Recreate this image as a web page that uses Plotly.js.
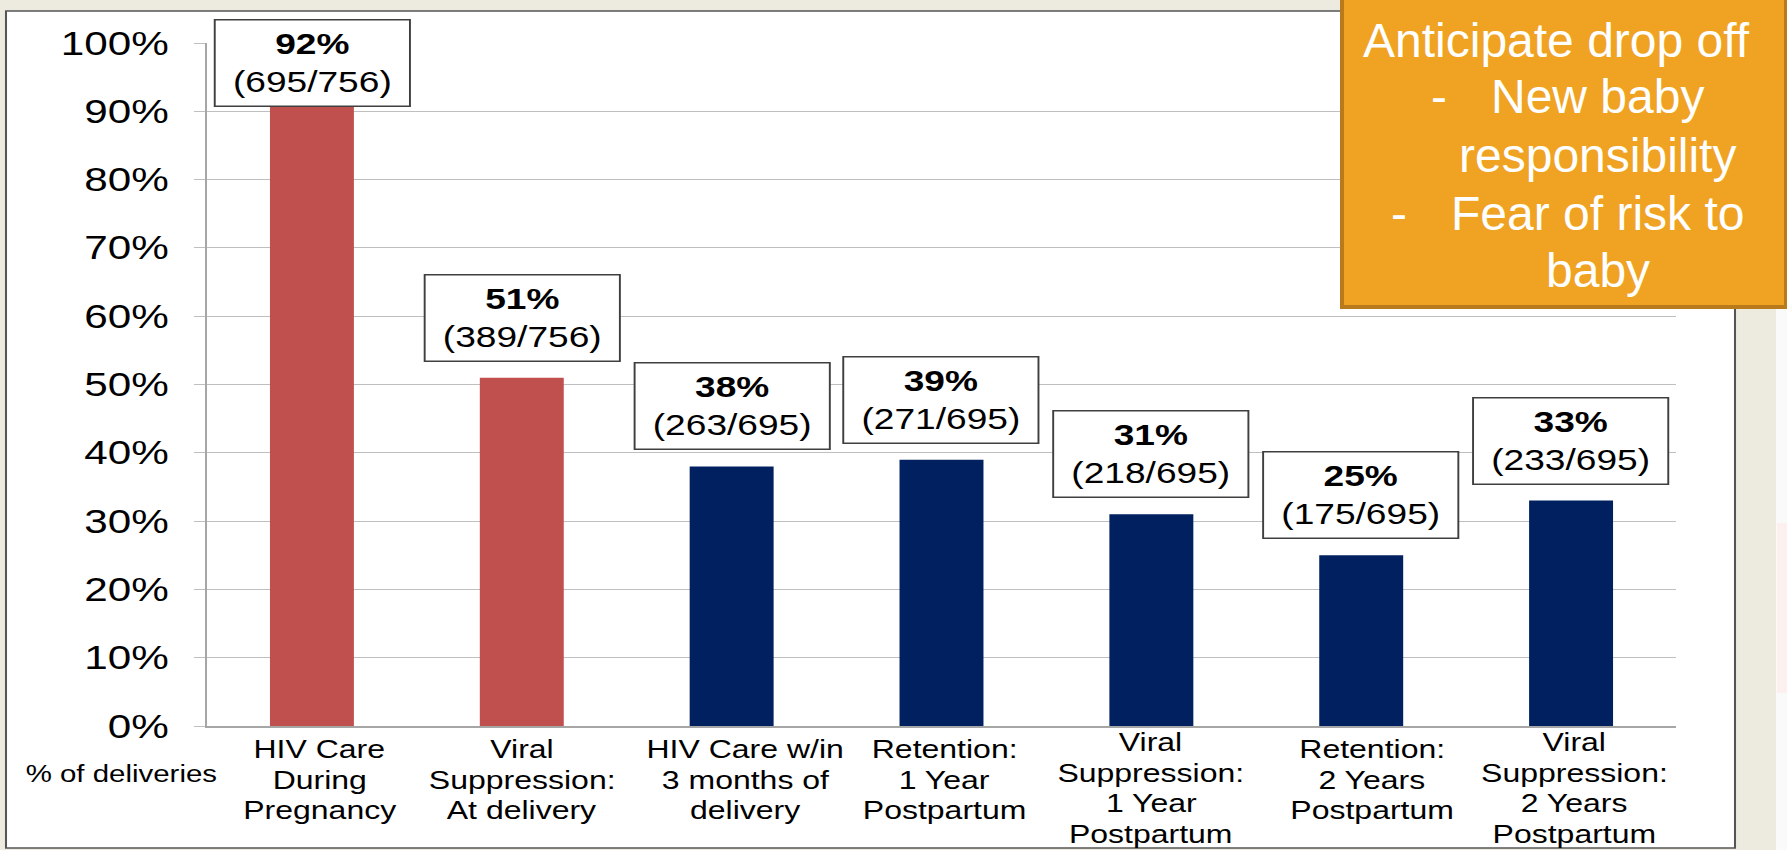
<!DOCTYPE html>
<html>
<head>
<meta charset="utf-8">
<script src="https://cdn.plot.ly/plotly-3.0.1.min.js"></script>
<style>
  html, body { margin: 0; padding: 0; width: 1787px; height: 850px; overflow: hidden; background: #EDEAE0; }
  #chart { position: absolute; left: 0; top: 0; transform-origin: 0 0; }
  #note { position: absolute; left: 0; top: 0; width: 1787px; height: 850px; pointer-events: none; }
</style>
</head>
<body>
<div id="chart"></div>
<div id="note"></div>
<script>
// Care cascade for deliveries among women with HIV
const categories = [
  "HIV Care<br>During<br>Pregnancy",
  "Viral<br>Suppression:<br>At delivery",
  "HIV Care w/in<br>3 months of<br>delivery",
  "Retention:<br>1 Year<br>Postpartum",
  "Viral<br>Suppression:<br>1 Year<br>Postpartum",
  "Retention:<br>2 Years<br>Postpartum",
  "Viral<br>Suppression:<br>2 Years<br>Postpartum"
];
const shares = [0.92, 0.51, 0.38, 0.39, 0.31, 0.25, 0.33];
const counts = ["695/756", "389/756", "263/695", "271/695", "218/695", "175/695", "233/695"];
const phase = ["pregnancy", "pregnancy", "postpartum", "postpartum", "postpartum", "postpartum", "postpartum"];
const yTicks = [0, 0.1, 0.2, 0.3, 0.4, 0.5, 0.6, 0.7, 0.8, 0.9, 1.0];
const seriesName = "% of deliveries";

const noteLines = ["Anticipate drop off", "-", "New baby", "responsibility", "-", "Fear of risk to", "baby"];

// ---- page geometry ----
const W = 1787, H = 850;
const STRETCH = 1.28;                 // chart slide is widened horizontally
const W0 = Math.round(W / STRETCH);   // chart drawn at this width, then widened
const SX = W / W0;
const px = v => v / W;
const py = v => 1 - v / H;

const FONT = "Liberation Sans, Arial, Helvetica, sans-serif";
const phaseColor = { pregnancy: "#C0504D", postpartum: "#002060" };

// value-label boxes sit above each bar, kept inside the plot top
const LABEL_CAP = 0.883;
const labelAnnotations = shares.map((v, i) => ({
  x: i, y: Math.min(v, LABEL_CAP), xref: "x", yref: "y",
  yanchor: "bottom", xanchor: "center", yshift: 16,
  text: "<b>" + Math.round(v * 100) + "%</b><br>(" + counts[i] + ")",
  showarrow: false, width: 151, height: 85,
  bgcolor: "#FFFFFF", bordercolor: "#3F3F3F", borderwidth: 1.5, borderpad: 0,
  font: { family: FONT, size: 29, color: "#000000" }, align: "center", valign: "middle"
}));

// category names under the axis, one line at a time for tighter leading
const CAT_SIZE = 25, CAT_LEAD = 30.5;
const catNudge = [8, 0, 14, 3, 0, 11, 3];   // small horizontal offsets of the wrapped names (px)
const categoryAnnotations = [];
categories.forEach((c, i) => {
  const lines = c.split("<br>");
  const first = 758 - 7 * (lines.length - 3);
  lines.forEach((t, k) => {
    categoryAnnotations.push({
      x: i, xref: "x", yref: "paper", xshift: catNudge[i] / SX,
      y: py(first + k * CAT_LEAD - 0.35 * CAT_SIZE),
      xanchor: "center", yanchor: "middle", showarrow: false, borderpad: 0,
      text: t, font: { family: FONT, size: CAT_SIZE, color: "#000000" }
    });
  });
});

const chartData = [{
  type: "bar",
  x: categories.map((c, i) => i),
  y: shares,
  name: seriesName,
  marker: { color: phase.map(p => phaseColor[p]), line: { width: 0 } },
  hoverinfo: "none"
}];

const chartLayout = {
  width: W0, height: H,
  margin: { l: 0, r: 0, t: 0, b: 0, pad: 0 },
  paper_bgcolor: "rgba(0,0,0,0)",
  plot_bgcolor: "rgba(0,0,0,0)",
  showlegend: false,
  bargap: 0.6,
  font: { family: FONT, color: "#000000" },
  xaxis: {
    domain: [px(207), px(1676)],
    range: [-0.5, categories.length - 0.5],
    showgrid: false, zeroline: false,
    showline: true, linecolor: "#A6A6A6", linewidth: 1.5,
    ticks: "", showticklabels: false,
    fixedrange: true
  },
  yaxis: {
    domain: [py(726), py(43)],
    range: [0, 1],
    tickvals: yTicks,
    tickformat: ".0%",
    showgrid: true, gridcolor: "#BFBFBF", gridwidth: 1,
    zeroline: false,
    showline: true, linecolor: "#A6A6A6", linewidth: 1.2,
    ticks: "outside", ticklen: 9, tickcolor: "#BFBFBF", tickwidth: 1,
    ticklabelstandoff: 13,
    tickfont: { family: FONT, size: 33, color: "#000000" },
    fixedrange: true
  },
  shapes: [{
    type: "rect", xref: "paper", yref: "paper", layer: "below",
    x0: px(6), x1: px(1735), y0: py(848), y1: py(11),
    fillcolor: "#FFFFFF", line: { color: "#555555", width: 1.6 }
  }],
  annotations: labelAnnotations.concat(categoryAnnotations, [{
    x: px(121.5), y: py(774), xref: "paper", yref: "paper",
    xanchor: "center", yanchor: "middle", showarrow: false,
    text: seriesName, font: { family: FONT, size: 23, color: "#000000" }
  }])
};

const chartDiv = document.getElementById("chart");
chartDiv.style.width = W0 + "px";
chartDiv.style.height = H + "px";
chartDiv.style.transform = "scaleX(" + SX + ")";
Plotly.newPlot(chartDiv, chartData, chartLayout, { staticPlot: true, displayModeBar: false });

// ---- call-out box on the right ----
const noteSpots = [
  { x: 1362, base: 57 },
  { x: 1430, base: 113 },
  { x: 1490, base: 113 },
  { x: 1458, base: 172 },
  { x: 1390, base: 230 },
  { x: 1450, base: 230 },
  { x: 1545, base: 287 }
];
const NOTE_SIZE = 48;
const noteAnnotations = noteLines.map((t, i) => ({
  x: px(noteSpots[i].x), y: py(noteSpots[i].base - 0.35 * NOTE_SIZE),
  xref: "paper", yref: "paper", xanchor: "left", yanchor: "middle",
  showarrow: false, borderpad: 0, text: t,
  font: { family: FONT, size: NOTE_SIZE, color: "#FFFFFF" }
}));

const noteLayout = {
  width: W, height: H,
  margin: { l: 0, r: 0, t: 0, b: 0, pad: 0 },
  paper_bgcolor: "rgba(0,0,0,0)",
  plot_bgcolor: "rgba(0,0,0,0)",
  xaxis: { visible: false, range: [0, 1], fixedrange: true },
  yaxis: { visible: false, range: [0, 1], fixedrange: true },
  showlegend: false,
  shapes: [
    { type: "rect", xref: "paper", yref: "paper", x0: px(1776), x1: px(1790), y0: py(852), y1: py(-2),
      fillcolor: "#FAFAFA", line: { width: 0 } },
    { type: "rect", xref: "paper", yref: "paper", x0: px(1777), x1: px(1790), y0: py(693), y1: py(523),
      fillcolor: "#FDF1EF", line: { width: 0 } },
    { type: "rect", xref: "paper", yref: "paper", x0: px(1342), x1: px(1786), y0: py(307), y1: py(-4),
      fillcolor: "#F0A322", line: { color: "#B97A1B", width: 4 } }
  ],
  annotations: noteAnnotations
};
Plotly.newPlot("note", [], noteLayout, { staticPlot: true, displayModeBar: false });
</script>
</body>
</html>
